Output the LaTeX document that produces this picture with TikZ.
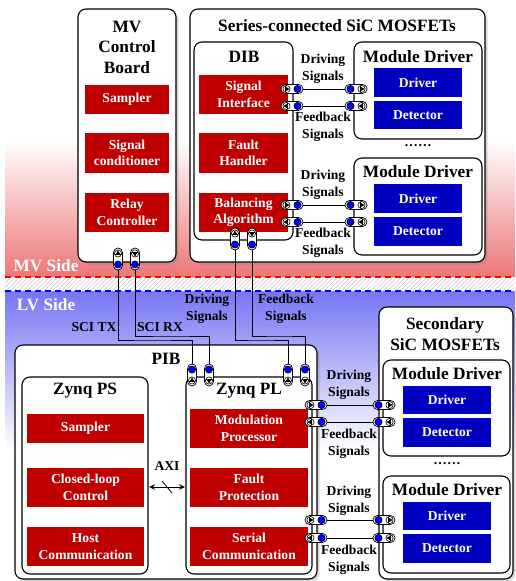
\documentclass[tikz,border=0pt]{standalone}
\usepackage{fontspec}
\setmainfont{Liberation Serif}
\usetikzlibrary{shadows,patterns.meta,arrows.meta}
\definecolor{myred}{RGB}{192,0,0}
\definecolor{myblue}{RGB}{0,0,192}
\definecolor{dotblue}{RGB}{0,0,255}
\definecolor{mvred}{RGB}{236,118,118}
\definecolor{lvblue}{RGB}{118,118,245}
\definecolor{dashred}{RGB}{255,0,0}
\definecolor{dashblue}{RGB}{0,0,255}
\newcommand\smallbf{\bfseries\fontsize{13.6}{16.5}\selectfont}
\newcommand\titlebf{\bfseries\fontsize{17.3}{20.5}\selectfont}
\tikzset{
  rbox/.style={draw, line width=1.1pt, rounded corners=8pt, fill=white, inner sep=0pt},
  shbox/.style={rbox, drop shadow={shadow xshift=2.5pt, shadow yshift=-2.5pt, opacity=0.3}},
  redbox/.style={fill=myred, text=white, inner sep=0pt, align=center, font=\smallbf},
  bluebox/.style={fill=myblue, text=white, inner sep=0pt, align=center, font=\smallbf},
  ttl/.style={font=\titlebf, align=center, inner sep=0pt},
  lbl/.style={font=\smallbf, align=center, inner sep=0pt},
  wire/.style={line width=1pt},
  capsule/.style={line width=0.7pt, fill=white, rounded corners=4.5pt},
  ring/.style={line width=0.6pt},
  dot/.style={line width=0.6pt, fill=dotblue},
  bar/.style={line width=0.5pt}
}
% box from corner (x1,y1) to (x2,y2)
\newcommand\bx[7]{\node[#1, minimum width={(#4)-(#2)}, minimum height={(#5)-(#3)}] (#6) at ({((#2)+(#4))/2},{((#3)+(#5))/2}) {#7};}
% connector symbol: name, x, y, rotation, direction (1 = towards wire, -1 = away)
\newcommand\conn[5]{%
  \begin{scope}[shift={(#2,#3)}, rotate=#4]
    \draw[capsule] (-11,-4.5) rectangle (11,4.5);
    \draw[ring] (-5.5,0) circle (3.6);
    \draw[dot] (5.5,0) circle (3.6);
    \ifnum#5>0
      \fill (-2.4,0) -- (-6.6,2.4) -- (-6.6,-2.4) -- cycle;
      \draw[bar] (-6.6,-3.4) -- (-6.6,3.4);
    \else
      \fill (-8.6,0) -- (-4.4,2.4) -- (-4.4,-2.4) -- cycle;
      \draw[bar] (-4.4,-3.4) -- (-4.4,3.4);
    \fi
    \coordinate (#1) at (11,0);
  \end{scope}}
\begin{document}
\begin{tikzpicture}[x=1pt,y=-1pt]
\useasboundingbox (0,0) rectangle (515,581);
% background zones
\shade[top color=white, bottom color=mvred] (5,140) rectangle (515,277);
\shade[top color=lvblue, bottom color=white] (5,291) rectangle (515,450);
\fill[white] (5,277) rectangle (515,291);
\fill[pattern={Lines[angle=45,distance=3pt,line width=0.5pt]}, pattern color=black!22] (5,277) rectangle (515,291);
\draw[dashred, line width=1.1pt, dash pattern=on 6pt off 4pt] (5,277) -- (515,277);
\draw[dashblue, line width=1.1pt, dash pattern=on 6pt off 4pt] (5,291) -- (515,291);
\node[ttl, text=white] (mvside) at (46,266) {MV Side};
\node[ttl, text=white] (lvside) at (46,305) {LV Side};

% ===== MV side =====
\bx{shbox}{78}{9}{176}{262}{mvb}{}
\node[ttl] (mvbt) at (127,47) {MV\\Control\\Board};
\bx{redbox}{85}{85}{169}{114}{mvs}{Sampler}
\bx{redbox}{85}{133}{169}{173}{mvc}{Signal\\conditioner}
\bx{redbox}{85}{193}{169}{232}{mvr}{Relay\\Controller}

\bx{shbox}{190}{9}{485}{262}{ser}{}
\node[ttl] (sert) at (337,26) {Series-connected SiC MOSFETs};
\bx{rbox}{194}{42}{293}{240}{dib}{}
\node[ttl] (dibt) at (244,57) {DIB};
\bx{redbox}{199}{75}{288}{114}{dsi}{Signal\\Interface}
\bx{redbox}{199}{133}{288}{173}{dfh}{Fault\\Handler}
\bx{redbox}{199}{193}{288}{232}{dba}{Balancing\\Algorithm}

\bx{rbox}{354}{42}{482}{139}{md1}{}
\node[ttl] (md1t) at (418,57) {Module Driver};
\bx{bluebox}{374}{68}{462}{97}{md1d}{Driver}
\bx{bluebox}{374}{101}{462}{129}{md1e}{Detector}
\node[lbl] (dots1) at (418,146) {……};
\bx{rbox}{354}{158}{482}{255}{md2}{}
\node[ttl] (md2t) at (418,172) {Module Driver};
\bx{bluebox}{374}{184}{462}{213}{md2d}{Driver}
\bx{bluebox}{374}{217}{462}{246}{md2e}{Detector}

\node[lbl] (l1) at (323,69) {Driving\\Signals};
\node[lbl] (l2) at (323,127) {Feedback\\Signals};
\node[lbl] (l3) at (323,185) {Driving\\Signals};
\node[lbl] (l4) at (323,243) {Feedback\\Signals};

% ===== LV side =====
\bx{shbox}{15}{345}{317}{579}{pib}{}
\node[ttl] (pibt) at (166,359) {PIB};
\bx{rbox}{22}{377}{148}{574}{ps}{}
\node[ttl] (pst) at (85,391) {Zynq PS};
\bx{redbox}{27}{414}{144}{443}{pss}{Sampler}
\bx{redbox}{27}{468}{144}{507}{psc}{Closed-loop\\Control}
\bx{redbox}{27}{527}{144}{566}{psh}{Host\\Communication}
\bx{rbox}{186}{377}{312}{574}{pl}{}
\node[ttl] (plt) at (249,391) {Zynq PL};
\bx{redbox}{190}{409}{308}{448}{plm}{Modulation\\Processor}
\bx{redbox}{190}{468}{308}{507}{plf}{Fault\\Protection}
\bx{redbox}{190}{527}{308}{566}{pls}{Serial\\Communication}

\node[lbl] (axi) at (167,466) {AXI};
\coordinate (axl) at (149,487);
\coordinate (axr) at (185,487);
\draw[<->, >={Stealth[length=6pt,width=5.5pt]}, line width=1pt] (axl) -- (axr);
\draw[line width=0.8pt] (162,481) -- (172,493);

\bx{shbox}{379}{307}{513}{579}{sec}{}
\node[ttl] (sect) at (445,334) {Secondary\\SiC MOSFETs};
\bx{rbox}{383}{360}{510}{456}{md3}{}
\node[ttl] (md3t) at (447,374) {Module Driver};
\bx{bluebox}{403}{386}{491}{414}{md3d}{Driver}
\bx{bluebox}{403}{418}{491}{447}{md3e}{Detector}
\node[lbl] (dots2) at (447,464) {……};
\bx{rbox}{383}{476}{510}{573}{md4}{}
\node[ttl] (md4t) at (447,490) {Module Driver};
\bx{bluebox}{403}{502}{491}{530}{md4d}{Driver}
\bx{bluebox}{403}{534}{491}{563}{md4e}{Detector}

\node[lbl] (l5) at (349,385) {Driving\\Signals};
\node[lbl] (l6) at (349,444) {Feedback\\Signals};
\node[lbl] (l7) at (349,501) {Driving\\Signals};
\node[lbl] (l8) at (349,560) {Feedback\\Signals};

\node[lbl] (l9) at (207,309) {Driving\\Signals};
\node[lbl] (l10) at (286,309) {Feedback\\Signals};
\node[lbl] (scitx) at (94,327) {SCI TX};
\node[lbl] (scirx) at (160,327) {SCI RX};

% ===== connectors =====
\conn{c1l}{292}{89}{0}{1}
\conn{c1r}{356}{89}{180}{-1}
\conn{c2l}{292}{106}{0}{-1}
\conn{c2r}{356}{106}{180}{1}
\conn{c3l}{292}{205}{0}{1}
\conn{c3r}{356}{205}{180}{-1}
\conn{c4l}{292}{222}{0}{-1}
\conn{c4r}{356}{222}{180}{1}

\conn{c5l}{316}{405}{0}{1}
\conn{c5r}{384}{405}{180}{-1}
\conn{c6l}{316}{422}{0}{-1}
\conn{c6r}{384}{422}{180}{1}
\conn{c7l}{316}{520}{0}{1}
\conn{c7r}{384}{520}{180}{-1}
\conn{c8l}{316}{538}{0}{-1}
\conn{c8r}{384}{538}{180}{1}

\draw[wire] (c1l) -- (c1r);
\draw[wire] (c2l) -- (c2r);
\draw[wire] (c3l) -- (c3r);
\draw[wire] (c4l) -- (c4r);
\draw[wire] (c5l) -- (c5r);
\draw[wire] (c6l) -- (c6r);
\draw[wire] (c7l) -- (c7r);
\draw[wire] (c8l) -- (c8r);

\conn{mtx}{118}{259}{-90}{-1}
\conn{mrx}{135}{259}{-90}{1}
\conn{dup}{235}{239}{-90}{-1}
\conn{ddn}{252}{239}{-90}{1}
\conn{ptx}{192}{375}{90}{1}
\conn{prx}{209}{375}{90}{-1}
\conn{pup}{288}{375}{90}{1}
\conn{pdn}{305}{375}{90}{-1}

\coordinate (j1) at (150,340);
\coordinate (j2) at (170,336);
\coordinate (j3) at (260,340);
\coordinate (j4) at (280,336);
\draw[wire] (mtx) |- (j1) -| (ptx);
\draw[wire] (mrx) |- (j2) -| (prx);
\draw[wire] (dup) |- (j3) -| (pup);
\draw[wire] (ddn) |- (j4) -| (pdn);
\end{tikzpicture}
\end{document}
